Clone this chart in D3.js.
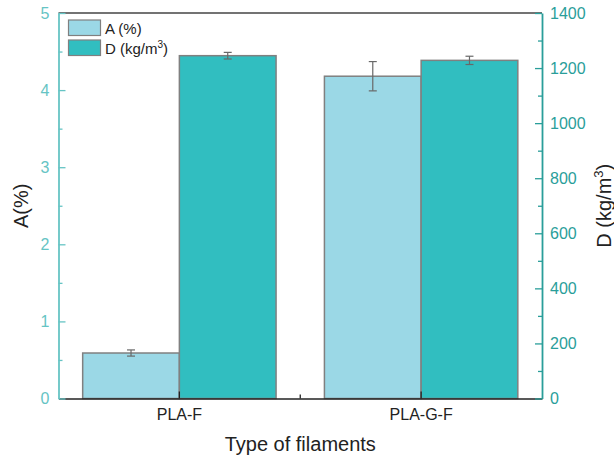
<!DOCTYPE html>
<html>
<head>
<meta charset="utf-8">
<script src="https://cdn.jsdelivr.net/npm/d3@7/dist/d3.min.js"></script>
<style>
  html, body { margin: 0; padding: 0; background: #fff; }
  svg { display: block; font-family: "Liberation Sans", Arial, Helvetica, sans-serif; }
</style>
</head>
<body>
<svg id="chart" width="614" height="460"></svg>
<script>
// ---- data ----
const categories = ["PLA-F", "PLA-G-F"];
const seriesNames = ["A (%)", "D (kg/m3)"];
const aValues = [0.59, 4.18];
const aErrors = [0.04, 0.19];
const dValues = [1245, 1228];
const dErrors = [12, 15];
const aTicks = [0, 1, 2, 3, 4, 5];
const dTicks = [0, 200, 400, 600, 800, 1000, 1200, 1400];

// ---- layout ----
const svg = d3.select("#chart");
const L = 58.5, R = 542, T = 13, B = 398.5;
const colA = "#9bd8e6", colD = "#31bec0";
const leftCol = "#66c4c4", rightCol = "#2a9e9a";
const barStroke = "#808080", errCol = "#686868";

const x0 = d3.scaleBand().domain(categories).range([L, R]).paddingInner(0.2).paddingOuter(0.1);
const x1 = d3.scaleBand().domain(["A", "D"]).range([0, x0.bandwidth()]);
const yA = d3.scaleLinear().domain([0, 5]).range([B, T]);
const yD = d3.scaleLinear().domain([0, 1400]).range([B, T]);

const rows = categories.map((c, i) => ({
  cat: c,
  bars: [
    { key: "A", v: aValues[i], e: aErrors[i], y: yA, fill: colA },
    { key: "D", v: dValues[i], e: dErrors[i], y: yD, fill: colD }
  ]
}));

// bars
const g = svg.append("g");
rows.forEach(r => {
  r.bars.forEach(b => {
    const bx = x0(r.cat) + x1(b.key);
    g.append("rect")
      .attr("x", bx).attr("y", b.y(b.v))
      .attr("width", x1.bandwidth()).attr("height", B - b.y(b.v))
      .attr("fill", b.fill).attr("stroke", barStroke).attr("stroke-width", 1.5);
  });
});
// error bars
rows.forEach(r => {
  r.bars.forEach(b => {
    const cx = x0(r.cat) + x1(b.key) + x1.bandwidth() / 2;
    const y1 = b.y(b.v + b.e), y2 = b.y(b.v - b.e);
    g.append("line").attr("x1", cx).attr("x2", cx).attr("y1", y1).attr("y2", y2)
      .attr("stroke", errCol).attr("stroke-width", 1.2);
    [y1, y2].forEach(yy => g.append("line").attr("x1", cx - 4).attr("x2", cx + 4)
      .attr("y1", yy).attr("y2", yy).attr("stroke", errCol).attr("stroke-width", 1.2));
  });
});

// top frame
svg.append("line").attr("x1", L).attr("x2", R).attr("y1", T).attr("y2", T)
  .attr("stroke", "#444").attr("stroke-width", 1.3);

// bottom axis
const xAxis = svg.append("g").attr("transform", `translate(0,${B})`)
  .call(d3.axisBottom(x0).tickSizeInner(-7).tickSizeOuter(0).tickPadding(10));
xAxis.select(".domain").attr("stroke", "#222").attr("stroke-width", 1.5);
xAxis.selectAll(".tick line").attr("stroke", "#222").attr("stroke-width", 1.3)
  .attr("transform", `translate(${x0.bandwidth() / 2 - x0.bandwidth() / 2},0)`);
xAxis.selectAll(".tick text").attr("font-size", 16).attr("fill", "#222")
  .attr("font-family", "Liberation Sans, Arial, sans-serif");
// minor bottom tick between categories
const midX = (x0(categories[0]) + x0(categories[1])) / 2 + x0.bandwidth() / 2;
svg.append("line").attr("x1", midX).attr("x2", midX).attr("y1", B).attr("y2", B - 4)
  .attr("stroke", "#222").attr("stroke-width", 1.3);

// left axis
const minorA = d3.range(0.5, 5, 1);
const lMinor = svg.append("g").attr("transform", `translate(${L},0)`)
  .call(d3.axisLeft(yA).tickValues(minorA).tickSize(-4).tickFormat(""));
lMinor.select(".domain").remove();
lMinor.selectAll(".tick line").attr("stroke", leftCol).attr("stroke-width", 1.3);
const lAxis = svg.append("g").attr("transform", `translate(${L},0)`)
  .call(d3.axisLeft(yA).tickValues(aTicks).tickSizeInner(-7).tickSizeOuter(0).tickPadding(9).tickFormat(d3.format("d")));
lAxis.select(".domain").attr("stroke", leftCol).attr("stroke-width", 1.8);
lAxis.selectAll(".tick line").attr("stroke", leftCol).attr("stroke-width", 1.3);
lAxis.selectAll(".tick text").attr("font-size", 16).attr("fill", leftCol)
  .attr("font-family", "Liberation Sans, Arial, sans-serif");

// right axis
const minorD = d3.range(100, 1400, 200);
const rMinor = svg.append("g").attr("transform", `translate(${R},0)`)
  .call(d3.axisRight(yD).tickValues(minorD).tickSize(-4).tickFormat(""));
rMinor.select(".domain").remove();
rMinor.selectAll(".tick line").attr("stroke", rightCol).attr("stroke-width", 1.3);
const rAxis = svg.append("g").attr("transform", `translate(${R},0)`)
  .call(d3.axisRight(yD).tickValues(dTicks).tickSizeInner(-7).tickSizeOuter(0).tickPadding(8).tickFormat(d3.format("d")));
rAxis.select(".domain").attr("stroke", rightCol).attr("stroke-width", 1.8);
rAxis.selectAll(".tick line").attr("stroke", rightCol).attr("stroke-width", 1.3);
rAxis.selectAll(".tick text").attr("font-size", 16).attr("fill", rightCol)
  .attr("font-family", "Liberation Sans, Arial, sans-serif");

// axis titles
svg.append("text").attr("transform", `translate(28,${(T + B) / 2}) rotate(-90)`)
  .attr("text-anchor", "middle").attr("font-size", 20).attr("fill", "#222").text("A(%)");
const dt = svg.append("text").attr("transform", `translate(611,${(T + B) / 2}) rotate(-90)`)
  .attr("text-anchor", "middle").attr("font-size", 20).attr("fill", "#222");
dt.append("tspan").text("D (kg/m");
dt.append("tspan").attr("font-size", 13).attr("dy", -8).text("3");
dt.append("tspan").attr("dy", 8).text(")");
svg.append("text").attr("x", (L + R) / 2).attr("y", 451).attr("text-anchor", "middle")
  .attr("font-size", 20).attr("fill", "#222").text("Type of filaments");

// legend
const legend = svg.append("g");
[colA, colD].forEach((c, i) => {
  const ly = 20 + i * 20;
  legend.append("rect").attr("x", 68.5).attr("y", ly).attr("width", 32).attr("height", 15.5)
    .attr("fill", c).attr("stroke", barStroke).attr("stroke-width", 1.2);
  const t = legend.append("text").attr("x", 105).attr("y", ly + 14).attr("font-size", 15).attr("fill", "#222");
  if (i === 0) t.text(seriesNames[0]);
  else {
    t.append("tspan").text("D (kg/m");
    t.append("tspan").attr("font-size", 10).attr("dy", -6).text("3");
    t.append("tspan").attr("dy", 6).text(")");
  }
});
</script>
</body>
</html>
